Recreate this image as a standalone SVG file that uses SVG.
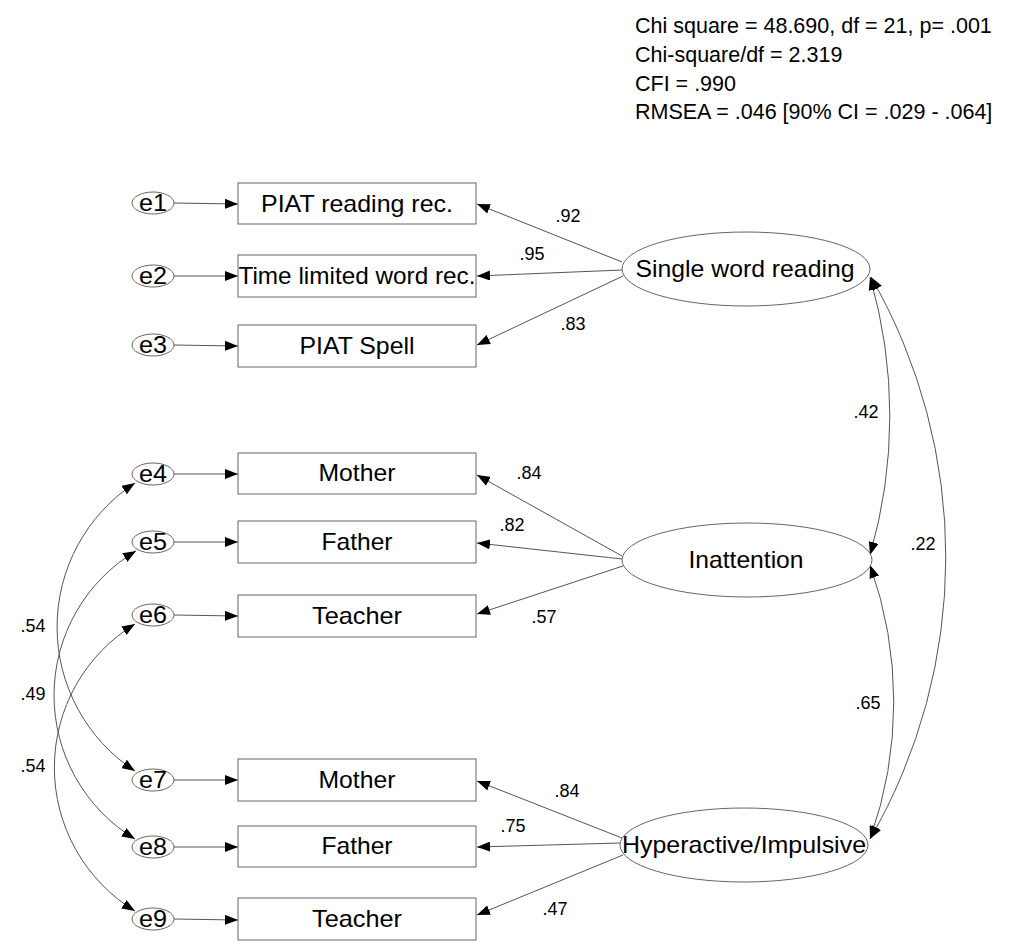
<svg xmlns="http://www.w3.org/2000/svg" width="1019" height="945" viewBox="0 0 1019 945">
<style>
text{font-family:"Liberation Sans",Arial,sans-serif;fill:#000}
.box{fill:#fff;stroke:#666;stroke-width:1}
.ell{fill:#fff;stroke:#666;stroke-width:1}
.lbl{font-size:24px;text-anchor:middle}
.el{font-size:24px;text-anchor:middle}
.num{font-size:18px;text-anchor:middle}
.stat{font-size:21.5px}
.cn{fill:none;stroke:#555;stroke-width:1}
.one{marker-end:url(#ah)}
.two{marker-start:url(#ah);marker-end:url(#ah)}
</style>
<defs>
<marker id="ah" markerUnits="userSpaceOnUse" viewBox="0 0 13 10" refX="13" refY="5" markerWidth="13" markerHeight="10" orient="auto-start-reverse">
<path d="M0,0 L13,5 L0,10 z" fill="#000"/>
</marker>
</defs>
<rect width="1019" height="945" fill="#fff"/>
<g id="stats">
<text class="stat" x="635" y="33">Chi square = 48.690, df = 21, p= .001</text>
<text class="stat" x="635" y="62">Chi-square/df = 2.319</text>
<text class="stat" x="635" y="91">CFI = .990</text>
<text class="stat" x="635" y="119">RMSEA = .046 [90% CI = .029 - .064]</text>
</g>
<g id="connectors">
<path class="cn one" d="M174,203 L238,204"/>
<path class="cn one" d="M174,276 L238,276"/>
<path class="cn one" d="M174,345 L238,346"/>
<path class="cn one" d="M174,474 L238,474"/>
<path class="cn one" d="M174,542 L238,542"/>
<path class="cn one" d="M174,615 L238,616"/>
<path class="cn one" d="M174,780 L238,780"/>
<path class="cn one" d="M174,847 L238,847"/>
<path class="cn one" d="M174,919 L238,920"/>
<path class="cn one" d="M622,262 L477,204"/>
<path class="cn one" d="M622,270 L477,276"/>
<path class="cn one" d="M623,276 L477,345"/>
<path class="cn one" d="M622,556 L477,475"/>
<path class="cn one" d="M622,559 L477,543"/>
<path class="cn one" d="M623,566 L477,614"/>
<path class="cn one" d="M622,838 L477,781"/>
<path class="cn one" d="M620,843 L477,847"/>
<path class="cn one" d="M623,855 L477,915"/>
<path class="cn two" d="M870,277 A497,497 0 0 1 870,555"/>
<path class="cn two" d="M870,565 A407,407 0 0 1 870,839"/>
<path class="cn two" d="M871,277 A562,562 0 0 1 870,839"/>
<path class="cn two" d="M135,483 A172,172 0 0 0 135,771"/>
<path class="cn two" d="M136,551 A168,168 0 0 0 135,839"/>
<path class="cn two" d="M135,624 A168,168 0 0 0 135,911"/>
</g>
<g id="labels">
<text class="num" x="568" y="222">.92</text>
<text class="num" x="532" y="260">.95</text>
<text class="num" x="573" y="330">.83</text>
<text class="num" x="529" y="479">.84</text>
<text class="num" x="512" y="531">.82</text>
<text class="num" x="544" y="623">.57</text>
<text class="num" x="567" y="797">.84</text>
<text class="num" x="513" y="832">.75</text>
<text class="num" x="555" y="915">.47</text>
<text class="num" x="866" y="418">.42</text>
<text class="num" x="923" y="550">.22</text>
<text class="num" x="868" y="709">.65</text>
<text class="num" x="33" y="632">.54</text>
<text class="num" x="33" y="700">.49</text>
<text class="num" x="33" y="772">.54</text>
</g>
<g id="e1"><ellipse class="ell" cx="153" cy="203" rx="21" ry="11"/><text class="el" x="153" y="211" textLength="28" lengthAdjust="spacingAndGlyphs">e1</text></g>
<g id="e2"><ellipse class="ell" cx="153" cy="276" rx="21" ry="11"/><text class="el" x="153" y="284" textLength="28" lengthAdjust="spacingAndGlyphs">e2</text></g>
<g id="e3"><ellipse class="ell" cx="153" cy="345" rx="21" ry="11"/><text class="el" x="153" y="353" textLength="28" lengthAdjust="spacingAndGlyphs">e3</text></g>
<g id="e4"><ellipse class="ell" cx="153" cy="474" rx="21" ry="11"/><text class="el" x="153" y="482" textLength="28" lengthAdjust="spacingAndGlyphs">e4</text></g>
<g id="e5"><ellipse class="ell" cx="153" cy="542" rx="21" ry="11"/><text class="el" x="153" y="550" textLength="28" lengthAdjust="spacingAndGlyphs">e5</text></g>
<g id="e6"><ellipse class="ell" cx="153" cy="615" rx="21" ry="11"/><text class="el" x="153" y="623" textLength="28" lengthAdjust="spacingAndGlyphs">e6</text></g>
<g id="e7"><ellipse class="ell" cx="153" cy="780" rx="21" ry="11"/><text class="el" x="153" y="788" textLength="28" lengthAdjust="spacingAndGlyphs">e7</text></g>
<g id="e8"><ellipse class="ell" cx="153" cy="847" rx="21" ry="11"/><text class="el" x="153" y="855" textLength="28" lengthAdjust="spacingAndGlyphs">e8</text></g>
<g id="e9"><ellipse class="ell" cx="153" cy="919" rx="21" ry="11"/><text class="el" x="153" y="927" textLength="28" lengthAdjust="spacingAndGlyphs">e9</text></g>
<g id="piat_reading"><rect class="box" x="238" y="183" width="238" height="41"/><text class="lbl" x="357" y="212" textLength="192" lengthAdjust="spacingAndGlyphs">PIAT reading rec.</text></g>
<g id="time_limited"><rect class="box" x="238" y="255" width="238" height="42"/><text class="lbl" x="357" y="284" textLength="237" lengthAdjust="spacingAndGlyphs">Time limited word rec.</text></g>
<g id="piat_spell"><rect class="box" x="238" y="325" width="238" height="42"/><text class="lbl" x="357" y="354" textLength="115" lengthAdjust="spacingAndGlyphs">PIAT Spell</text></g>
<g id="ina_mother"><rect class="box" x="238" y="453" width="238" height="41"/><text class="lbl" x="357" y="481" textLength="77" lengthAdjust="spacingAndGlyphs">Mother</text></g>
<g id="ina_father"><rect class="box" x="238" y="521" width="238" height="42"/><text class="lbl" x="357" y="550" textLength="71" lengthAdjust="spacingAndGlyphs">Father</text></g>
<g id="ina_teacher"><rect class="box" x="238" y="595" width="238" height="42"/><text class="lbl" x="357" y="624" textLength="90" lengthAdjust="spacingAndGlyphs">Teacher</text></g>
<g id="hyp_mother"><rect class="box" x="238" y="759" width="238" height="42"/><text class="lbl" x="357" y="788" textLength="77" lengthAdjust="spacingAndGlyphs">Mother</text></g>
<g id="hyp_father"><rect class="box" x="238" y="826" width="238" height="41"/><text class="lbl" x="357" y="854" textLength="71" lengthAdjust="spacingAndGlyphs">Father</text></g>
<g id="hyp_teacher"><rect class="box" x="238" y="898" width="238" height="42"/><text class="lbl" x="357" y="927" textLength="90" lengthAdjust="spacingAndGlyphs">Teacher</text></g>
<g id="single_word_reading"><ellipse class="ell" cx="746" cy="269" rx="124" ry="37"/><text class="lbl" x="745" y="277" textLength="219" lengthAdjust="spacingAndGlyphs">Single word reading</text></g>
<g id="inattention"><ellipse class="ell" cx="747" cy="560" rx="125" ry="37"/><text class="lbl" x="746" y="568" textLength="115" lengthAdjust="spacingAndGlyphs">Inattention</text></g>
<g id="hyperactive"><ellipse class="ell" cx="744" cy="845" rx="124" ry="37"/><text class="lbl" x="744" y="853" textLength="244" lengthAdjust="spacingAndGlyphs">Hyperactive/Impulsive</text></g>
</svg>
